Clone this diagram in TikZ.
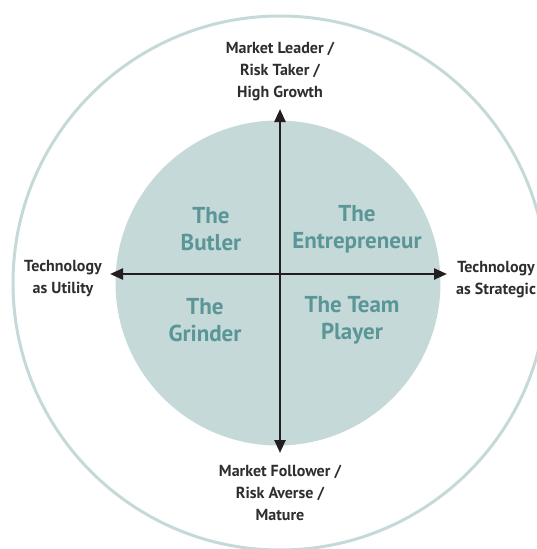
\documentclass[tikz,border=0pt]{standalone}
\usepackage{fontspec}
\setmainfont{PT Sans}[BoldFont={PT Sans Bold}]
\usetikzlibrary{arrows.meta}
\definecolor{ring}{HTML}{C6D9D9}
\definecolor{disc}{HTML}{C6D9D9}
\definecolor{quad}{HTML}{5A9697}
\definecolor{ink}{HTML}{231F20}
\definecolor{lbl}{HTML}{2E2E2E}
\tikzset{
  axis/.style={line width=2.4pt, draw=ink, -{Triangle[length=13pt,width=11pt]}},
  axislabel/.style={font=\fontsize{16}{22}\selectfont\bfseries, text=lbl, align=center, inner sep=0pt},
  quadlabel/.style={font=\fontsize{23}{27}\selectfont\bfseries, text=quad, align=center, inner sep=0pt},
}
\begin{document}
\begin{tikzpicture}[x=1pt,y=-1pt]
\useasboundingbox (0,0) rectangle (536,549);
\draw[ring, line width=3pt] (280,283) circle (267);
\fill[disc] (278,283) circle (162.5);
\coordinate (c) at (280,274);
\coordinate (top) at (280,109);
\coordinate (bot) at (280,453);
\coordinate (lft) at (110,274);
\coordinate (rgt) at (447,274);
\draw[axis] (c) -- (top);
\draw[axis] (c) -- (bot);
\draw[axis] (c) -- (lft);
\draw[axis] (c) -- (rgt);
\node[axislabel] (tl) at (280,71) {Market Leader /\\Risk Taker /\\High Growth};
\node[axislabel] (bl) at (280,493) {Market Follower /\\Risk Averse /\\Mature};
\node[axislabel] (ll) at (63,279) {Technology\\as Utility};
\node[axislabel, anchor=west] (rl) at (456,280) {Technology\\as Strategic};
\node[quadlabel] (q1) at (211,229) {The\\Butler};
\node[quadlabel] (q2) at (357,229) {The\\Entrepreneur};
\node[quadlabel] (q3) at (205,320) {The\\Grinder};
\node[quadlabel] (q4) at (352,320) {The Team\\Player};
\end{tikzpicture}
\end{document}
